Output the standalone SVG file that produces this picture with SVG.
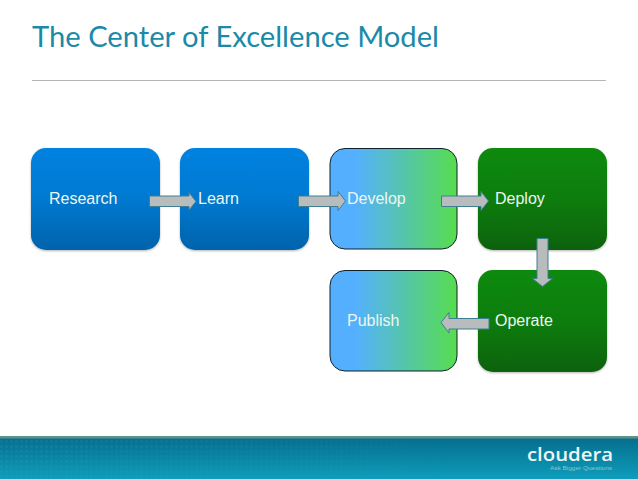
<svg xmlns="http://www.w3.org/2000/svg" width="638" height="479" viewBox="0 0 638 479">
<style>
.t{font-family:"Liberation Sans",Arial,sans-serif;font-size:16px;fill:#eef6f2}
.a{fill:#b9bcbd;stroke:#3f7f93;stroke-width:1}
.n{filter:url(#s)}
</style>
<defs>
<linearGradient id="blue" x1="0" y1="0" x2="0" y2="1"><stop offset="0" stop-color="#0182e0"/><stop offset="0.5" stop-color="#0179d0"/><stop offset="1" stop-color="#0363ab"/></linearGradient>
<linearGradient id="green" x1="0" y1="0" x2="0" y2="1"><stop offset="0" stop-color="#118a0c"/><stop offset="0.5" stop-color="#0f7d0b"/><stop offset="1" stop-color="#0b620a"/></linearGradient>
<linearGradient id="mix" x1="0" y1="0" x2="1" y2="0"><stop offset="0" stop-color="#54b0fe"/><stop offset="0.2" stop-color="#54b0fe"/><stop offset="1" stop-color="#57dd4e"/></linearGradient>
<linearGradient id="foot" x1="0" y1="0" x2="0" y2="1"><stop offset="0" stop-color="#056c8c"/><stop offset="1" stop-color="#0e9dbb"/></linearGradient>
<pattern id="dots" width="5" height="5" patternUnits="userSpaceOnUse"><rect width="3" height="3" fill="#3fa5bd" fill-opacity="0.16"/></pattern>
<linearGradient id="fade" x1="0" y1="0" x2="1" y2="0"><stop offset="0" stop-color="#fff"/><stop offset="0.45" stop-color="#fff" stop-opacity="0.5"/><stop offset="0.7" stop-color="#000"/></linearGradient>
<mask id="m"><rect x="0" y="436" width="638" height="43" fill="url(#fade)"/></mask>
<filter id="s" x="-10%" y="-10%" width="120%" height="120%"><feDropShadow dx="0" dy="1" stdDeviation="1.2" flood-color="#000" flood-opacity="0.3"/></filter>
</defs>
<rect width="638" height="479" fill="#fff"/>
<g id="header">
<text x="32" y="47" font-family="Lato,'Open Sans',sans-serif" font-size="29" fill="#1a8aa8" textLength="407" lengthAdjust="spacingAndGlyphs">The Center of Excellence Model</text>
<rect x="32" y="80" width="574" height="1" fill="#b5b5b5"/>
</g>
<g id="research"><rect class="n" x="31" y="148" width="129" height="102" rx="15" fill="url(#blue)"/><text class="t" x="49" y="204">Research</text></g>
<g id="learn"><rect class="n" x="180" y="148" width="129" height="102" rx="15" fill="url(#blue)"/><text class="t" x="198" y="204">Learn</text></g>
<g id="develop"><rect x="330" y="148.500" width="127" height="100.500" rx="15" fill="url(#mix)" stroke="#10202a" stroke-width="1"/><text class="t" x="347" y="204">Develop</text></g>
<g id="deploy"><rect class="n" x="478" y="148" width="129" height="102" rx="15" fill="url(#green)"/><text class="t" x="495" y="204">Deploy</text></g>
<g id="publish"><rect x="330" y="270.500" width="127" height="100.500" rx="15" fill="url(#mix)" stroke="#10202a" stroke-width="1"/><text class="t" x="347" y="326">Publish</text></g>
<g id="operate"><rect class="n" x="478" y="270" width="129" height="102" rx="15" fill="url(#green)"/><text class="t" x="495" y="326">Operate</text></g>
<g id="connectors">
<path class="a" d="M149.500 196H189V192.500L196 201.500L189 210V206.500H149.500Z"/>
<path class="a" d="M298.500 196H338V191.500L345.500 201L338 210.500V206.500H298.500Z"/>
<path class="a" d="M441.500 196H481V191.500L488.500 201L481 210.500V206.500H441.500Z"/>
<path class="a" d="M537 238.500H548V278.500H552.500L542.500 286.500L532.500 278.500H537Z"/>
<path class="a" d="M489 318.500H449V312.500L441 322.500L449 333V329H489Z"/>
</g>
<g id="footer">
<rect x="0" y="436" width="638" height="43" fill="url(#foot)"/>
<rect x="0" y="438" width="638" height="41" fill="url(#dots)" mask="url(#m)"/>
<rect x="0" y="436" width="638" height="2.500" fill="#5f9289"/>
<text x="527" y="460.500" font-family="'Open Sans','Liberation Sans',sans-serif" font-size="18" font-weight="600" fill="#eef6f6" textLength="86" lengthAdjust="spacingAndGlyphs">cloudera</text>
<text x="550" y="469.500" font-family="'Liberation Sans',Arial,sans-serif" font-size="6" fill="#8fc4d2" textLength="62" lengthAdjust="spacingAndGlyphs">Ask Bigger Questions</text>
</g>
</svg>
